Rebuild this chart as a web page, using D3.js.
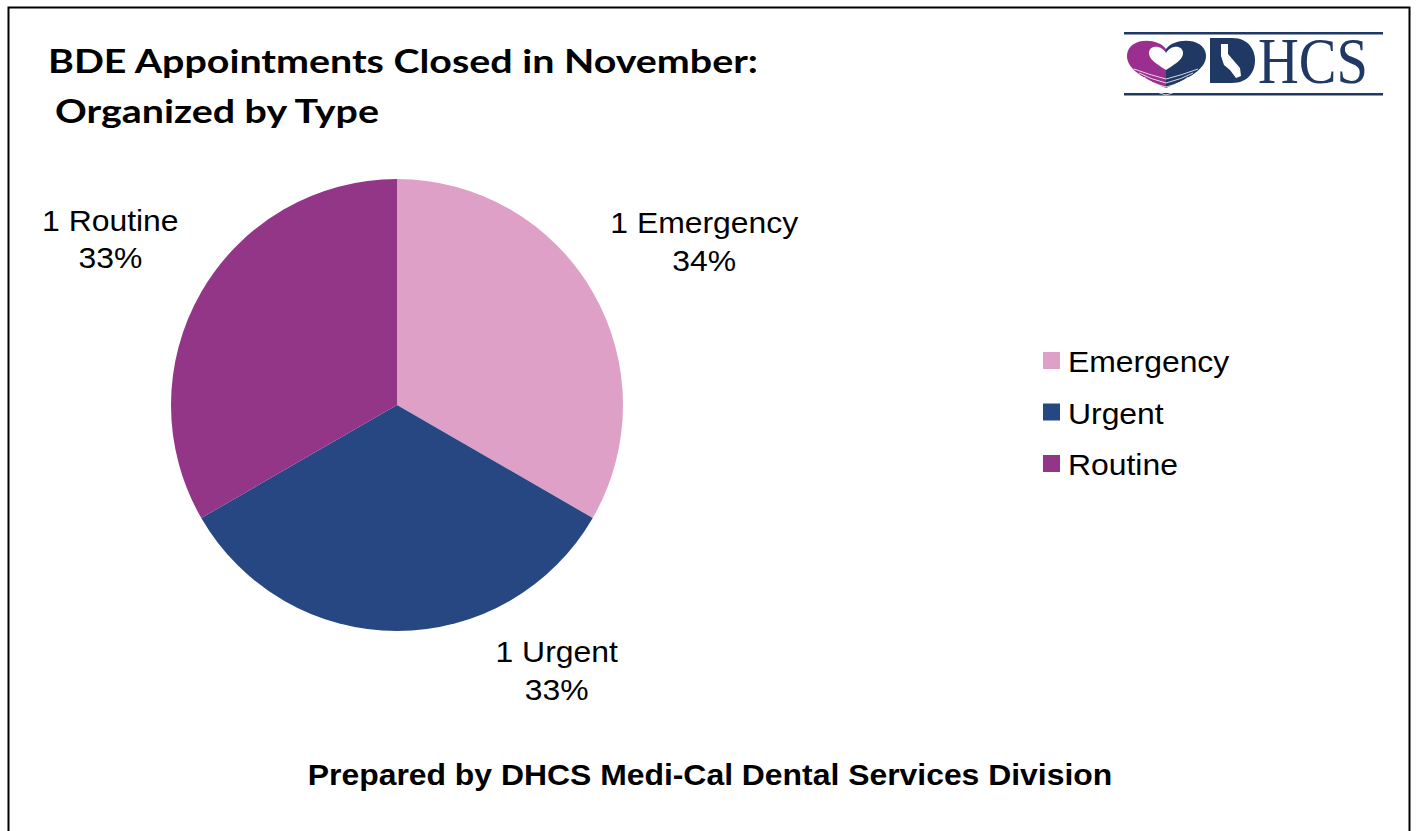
<!DOCTYPE html>
<html>
<head>
<meta charset="utf-8">
<script src="https://cdn.jsdelivr.net/npm/d3@7"></script>
<style>
  body { margin: 0; background: #fff; }
  svg { display: block; }
</style>
</head>
<body>
<div id="chart"></div>
<script>
const categories = ["Emergency", "Urgent", "Routine"];
const counts = [1, 1, 1];
const percentLabels = ["34%", "33%", "33%"];
const colors = ["#DFA0C8", "#264781", "#933688"];
// Excel "best fit" moved the Urgent label off the bisector (degrees)
const labelNudge = [2, -31, 0];

const W = 1416, H = 831;
const ARIAL = "'Liberation Sans', Arial, sans-serif";
const SX = 1.1; // the source render is a bit wide

const svg = d3.select("#chart").append("svg")
  .attr("width", W)
  .attr("height", H);

// frame
svg.append("rect")
  .attr("x", 8.5).attr("y", 7.5)
  .attr("width", 1401).attr("height", 840)
  .attr("fill", "none").attr("stroke", "#000").attr("stroke-width", 2);

// title
svg.append("text")
  .attr("x", 48).attr("y", 73)
  .attr("font-family", "Lato, 'Open Sans', sans-serif")
  .attr("font-weight", "bold")
  .attr("font-size", 33)
  .attr("textLength", 710).attr("lengthAdjust", "spacingAndGlyphs")
  .text("BDE Appointments Closed in November:");
svg.append("text")
  .attr("x", 55).attr("y", 123)
  .attr("font-family", "Lato, 'Open Sans', sans-serif")
  .attr("font-weight", "bold")
  .attr("font-size", 33)
  .attr("textLength", 324).attr("lengthAdjust", "spacingAndGlyphs")
  .text("Organized by Type");

// pie
const cx = 397, cy = 405, r = 226;
const data = categories.map((c, i) => ({name: c, value: counts[i], pct: percentLabels[i], color: colors[i], nudge: labelNudge[i]}));
const pie = d3.pie().sort(null).value(d => d.value);
const arc = d3.arc().innerRadius(0).outerRadius(r);
const arcs = pie(data);

const g = svg.append("g").attr("transform", `translate(${cx},${cy})`);
g.selectAll("path")
  .data(arcs)
  .enter()
  .append("path")
  .attr("d", arc)
  .attr("fill", d => d.data.color);

// data labels
const labelR = [348, 310, 331];
const lbl = g.selectAll("text.lbl")
  .data(arcs)
  .enter()
  .append("text")
  .attr("class", "lbl")
  .attr("text-anchor", "middle")
  .attr("font-family", ARIAL)
  .attr("font-size", 29)
  .attr("fill", "#000")
  .attr("transform", (d, i) => {
    const a = (d.startAngle + d.endAngle) / 2 + d.data.nudge * Math.PI / 180;
    const x = Math.sin(a) * labelR[i], y = -Math.cos(a) * labelR[i];
    return `translate(${x},${y}) scale(${SX},1)`;
  });
lbl.append("tspan").attr("x", 0).attr("y", -9).text(d => `${d.data.value} ${d.data.name}`);
lbl.append("tspan").attr("x", 0).attr("y", 29).text(d => d.data.pct);

// legend
const legend = svg.append("g").attr("transform", "translate(1043,352)");
const item = legend.selectAll("g")
  .data(data)
  .enter()
  .append("g")
  .attr("transform", (d, i) => `translate(0,${i * 51.5})`);
item.append("rect")
  .attr("width", 17).attr("height", 17)
  .attr("fill", d => d.color);
item.append("text")
  .attr("transform", `translate(25,20) scale(${SX},1)`)
  .attr("font-family", ARIAL)
  .attr("font-size", 29)
  .attr("fill", "#000")
  .text(d => d.name);

// footer
svg.append("text")
  .attr("transform", `translate(710,785) scale(${SX},1)`)
  .attr("text-anchor", "middle")
  .attr("font-family", ARIAL)
  .attr("font-weight", "bold")
  .attr("font-size", 29)
  .text("Prepared by DHCS Medi-Cal Dental Services Division");

// logo
const navy = "#1f3864", magenta = "#9b2f8f";
const logo = svg.append("g").attr("transform", "translate(1124,32)");
logo.append("rect").attr("x", 0).attr("y", 0).attr("width", 259).attr("height", 2.5).attr("fill", navy);
logo.append("rect").attr("x", 0).attr("y", 61).attr("width", 259).attr("height", 2.5).attr("fill", navy);

const heart = logo.append("g").attr("transform", "translate(2,5)");
heart.append("path")
  .attr("d", "M40,12 C32,0 2,0 1,18 C0,34 24,44 40,51 Z")
  .attr("fill", magenta);
heart.append("path")
  .attr("d", "M40,12 C48,0 79,0 80,18 C81,34 56,44 40,51 Z")
  .attr("fill", navy);
heart.append("path")
  .attr("d", "M40,16 C35,7 22,8 23,17 C24,24 33,28 40,33 C47,28 56,24 57,17 C58,8 45,7 40,16 Z")
  .attr("fill", "#fff");
[0, 1, 2, 3, 4].forEach(k => {
  const y = 32 + k * 4;
  heart.append("path")
    .attr("d", `M${8 + k * 5},${y} Q24,${y + 6} 40,${y + 10} Q56,${y + 6} ${72 - k * 5},${y}`)
    .attr("fill", "none").attr("stroke", "#fff").attr("stroke-width", 1).attr("opacity", 0.8);
});

// block D with California shape
logo.append("path")
  .attr("d", "M86,6 L108,6 C126,6 131,20 131,28 C131,40 124,51 108,51 L86,51 Z")
  .attr("fill", navy);
logo.append("path")
  .attr("d", "M97,12 L104,12 L104,22 L116,36 L117,44 L112,46 L106,38 L100,33 L97,24 Z")
  .attr("fill", "#fff");
logo.append("text")
  .attr("x", 134).attr("y", 51)
  .attr("font-family", "'Liberation Serif', 'DejaVu Serif', serif")
  .attr("font-size", 66)
  .attr("fill", navy)
  .attr("textLength", 110).attr("lengthAdjust", "spacingAndGlyphs")
  .text("HCS");
</script>
</body>
</html>
